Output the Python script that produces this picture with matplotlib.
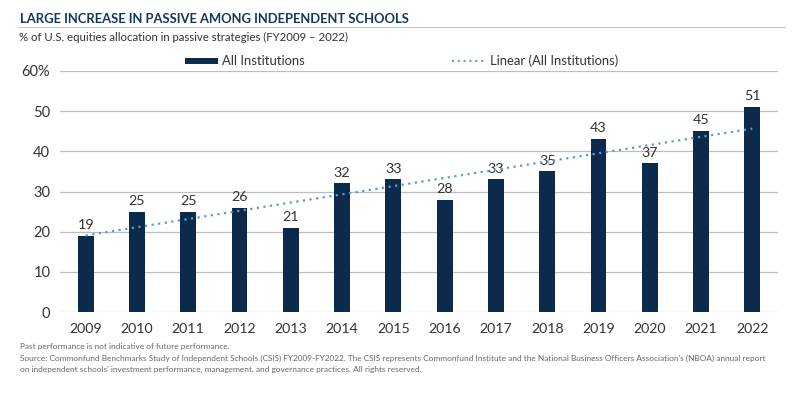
import matplotlib
matplotlib.use("Agg")
import matplotlib.pyplot as plt
import numpy as np
from matplotlib.patches import Rectangle
from matplotlib.lines import Line2D

plt.rcParams['font.family'] = ['Lato', 'DejaVu Sans']

years = ['2009', '2010', '2011', '2012', '2013', '2014', '2015', '2016',
         '2017', '2018', '2019', '2020', '2021', '2022']
values = [19, 25, 25, 26, 21, 32, 33, 28, 33, 35, 43, 37, 45, 51]
yticks = [0, 10, 20, 30, 40, 50, 60]
yticklabels = ['0', '10', '20', '30', '40', '50', '60%']

navy = '#0c2a4b'
trend_c = '#5a9cc4'
grid_c = '#bdbdbd'
text_c = '#333333'

W, H = 800, 394
fig = plt.figure(figsize=(8, 3.94), dpi=100)
ax = fig.add_axes([60/W, 1 - 312/H, (778-60)/W, (312-71)/H])

x = np.arange(len(years))
ax.bar(x, values, width=0.31, color=navy, zorder=3)

# linear trendline
coef = np.polyfit(x, values, 1)
ax.plot(x, np.polyval(coef, x), linestyle=(0, (1, 2)), color=trend_c, lw=1.6, zorder=4)

for xi, v in zip(x, values):
    ax.text(xi, v + 1.2, str(v), ha='center', va='bottom', fontsize=10.3, color=text_c)

ax.set_xlim(-0.5, len(years) - 0.5)
ax.set_ylim(0, 60)
ax.set_yticks(yticks)
ax.set_yticklabels(yticklabels, fontsize=10.5, color=text_c)
ax.set_xticks(x)
ax.set_xticklabels(years, fontsize=10.2, color=text_c)
ax.tick_params(axis='x', length=0, pad=8)
ax.tick_params(axis='y', length=0, pad=7)
ax.grid(axis='y', color=grid_c, lw=0.9, zorder=0)
for s in ax.spines.values():
    s.set_visible(False)

# legend (manual)
ly = 1 - 61/H
fig.add_artist(Rectangle((185/W, ly - 3/H), 33/W, 6/H, transform=fig.transFigure,
                         facecolor=navy, edgecolor='none'))
fig.text(222/W, ly, 'All Institutions', fontsize=9.4, color=text_c, va='center', ha='left')
fig.add_artist(Line2D([452/W, 484/W], [ly, ly], transform=fig.transFigure,
                      color=trend_c, linestyle=(0, (1, 2)), lw=1.4))
fig.text(490/W, ly, 'Linear (All Institutions)', fontsize=9.4, color=text_c, va='center', ha='left')

fig.text(20/W, 1 - 19/H, 'LARGE INCREASE IN PASSIVE AMONG INDEPENDENT SCHOOLS',
         fontsize=9.4, fontweight='bold', color='#16365c', va='center', ha='left')
fig.add_artist(Line2D([18/W, 785/W], [1 - 27/H, 1 - 27/H], transform=fig.transFigure,
                      color='#c4c4c4', lw=0.8))
fig.text(19/W, 1 - 37/H, '% of U.S. equities allocation in passive strategies (FY2009 – 2022)',
         fontsize=8.2, color=text_c, va='center', ha='left')

fig.text(20/W, 1 - 346/H, 'Past performance is not indicative of future performance.',
         fontsize=5.95, color='#666666', va='center', ha='left')
fig.text(20/W, 1 - 358/H,
         "Source: Commonfund Benchmarks Study of Independent Schools (CSIS) FY2009-FY2022. The CSIS represents Commonfund Institute and the National Business Officers Association's (NBOA) annual report",
         fontsize=5.95, color='#666666', va='center', ha='left')
fig.text(20/W, 1 - 369/H,
         "on independent schools' investment performance, management, and governance practices. All rights reserved.",
         fontsize=5.95, color='#666666', va='center', ha='left')

fig.savefig('out.png', dpi=100)
